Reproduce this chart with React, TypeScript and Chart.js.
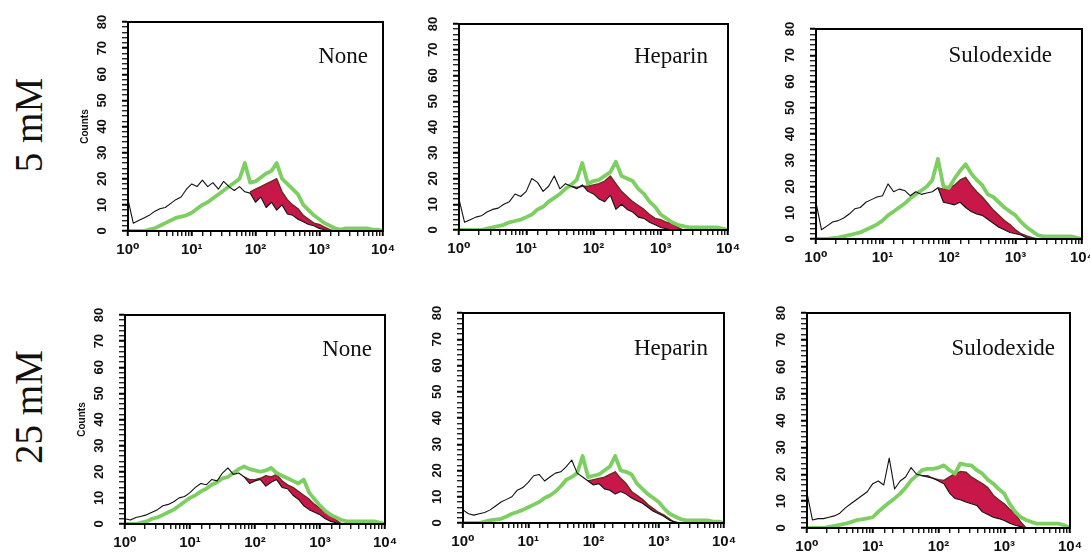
import React, { useEffect, useRef } from "react";
import { Chart, registerables } from "chart.js";

Chart.register(...registerables);

// Fluorescence channels (log axis, 12 per decade from 10^0 to 10^4)
const CHANNELS = [
  1, 1.21, 1.47, 1.78, 2.15, 2.61, 3.16, 3.83, 4.64, 5.62, 6.81, 8.25,
  10, 12.1, 14.7, 17.8, 21.5, 26.1, 31.6, 38.3, 46.4, 56.2, 68.1, 82.5,
  100, 121, 147, 178, 215, 261, 316, 383, 464, 562, 681, 825,
  1000, 1210, 1470, 1780, 2150, 2610, 3160, 3830, 4640, 5620, 6810, 8250, 10000,
];

const X_TICK_LABELS = ["10⁰", "10¹", "10²", "10³", "10⁴"];
const Y_MIN = 0;
const Y_MAX = 80;
const ROW_LABELS = ["5 mM", "25 mM"];
const PANEL_TITLES = ["None", "Heparin", "Sulodexide"];

const N = null;

// ---------- 5 mM ----------
const none5_control = [
  12, 3, 4, 5, 6, 7.5, 8.5, 9, 10.5, 12, 13, 16,
  18, 17, 19.5, 17, 18.5, 16, 19, 17, 15.5, 17, 15, 14.5,
  11, 13, 9, 11, 8, 10, 6.5, 6, 4.5, 3.5, 2.5, 2,
  1, 0.5, 0, 0, 0, 0, 0, 0, 0, 0, 0, 0, 0,
];
const none5_green = [
  0, 0, 0, 0, 0.5, 1, 2, 3, 4, 5, 5.5, 6,
  7, 8.5, 10, 11, 12.5, 14, 15.5, 17, 18.5, 20, 26, 18.5,
  19, 20.5, 22, 23, 26, 20, 18, 16, 14, 10, 8, 6,
  4.5, 3, 2, 1, 0.5, 1, 1, 1, 1, 1, 0.5, 0.5, 0,
];
const none5_red = [
  N, N, N, N, N, N, N, N, N, N, N, N,
  N, N, N, N, N, N, N, N, N, N, N, 15,
  16, 17, 18, 19, 20, 15, 12, 10, 8.5, 6, 4.5, 3,
  2.5, 1.5, 0.5, 0, N, N, N, N, N, N, N, N, N,
];

const hep5_control = [
  12, 3, 4, 5, 5.5, 7, 8, 8.5, 10, 11, 14, 13,
  15, 20, 18.5, 15, 17, 21, 16, 18, 17, 16, 17.5, 15,
  14, 12, 11, 13.5, 8, 10, 8, 7, 5, 4.5, 3, 2,
  1, 0.5, 0, 0, 0, 0, 0, 0, 0, 0, 0, 0, 0,
];
const hep5_green = [
  0, 0, 0, 0, 0, 0.5, 1, 1.5, 2, 3, 3.5, 4,
  5, 6, 8, 9, 11, 12.5, 14, 16, 17.5, 19.5, 26, 18,
  19, 19.5, 21, 22.5, 26.5, 21, 20, 19, 16, 14, 11, 9,
  6, 4.5, 3, 2, 1.5, 1, 1, 1, 1, 1, 1, 0.5, 0,
];
const hep5_red = [
  N, N, N, N, N, N, N, N, N, N, N, N,
  N, N, N, N, N, N, N, N, 17, 16.5, 17, 17,
  17.5, 18, 19, 21, 18, 15, 13, 11, 9.5, 8, 6, 4.5,
  4, 3, 2.5, 1, 0, N, N, N, N, N, N, N, N,
];

const sul5_control = [
  14, 3.5, 5, 6.5, 7, 8, 9.5, 11.5, 12, 14, 15, 16,
  16.5, 21, 18, 19, 18.5, 16.5, 18, 17, 17.5, 18, 19.5, 14,
  13.5, 13, 14, 12, 10.5, 9.5, 9, 7.5, 6, 4.5, 3.5, 2.5,
  2, 1.5, 0.5, 0, 0, 0, 0, 0, 0, 0, 0, 0, 0,
];
const sul5_green = [
  0, 0, 0, 0.3, 0.5, 1, 1.5, 2, 2.5, 3.5, 4.5, 5.5,
  7, 9, 10.5, 12, 13.5, 15.5, 17, 18.5, 20, 22.5, 30.5, 20,
  19.5, 23, 26, 28.5, 25, 22.5, 20.5, 17, 16, 14, 12, 10.5,
  9, 6.5, 4.5, 3, 1.5, 1, 1, 1, 1, 1, 1, 0.5, 0,
];
const sul5_red = [
  N, N, N, N, N, N, N, N, N, N, N, N,
  N, N, N, N, N, N, N, N, N, N, 19.5, 19,
  19.5, 20.5, 22.5, 23.5, 20.5, 18, 16, 13.5, 11, 9, 7, 5.5,
  3.5, 2, 1.2, 0.5, 0, N, N, N, N, N, N, N, N,
];

// ---------- 25 mM ----------
const none25_control = [
  2, 1.5, 2.5, 3, 3.5, 4.5, 5.5, 7, 7.5, 8.5, 10, 10.5,
  12, 14, 15.5, 15, 17, 16.5, 19.5, 21.5, 19, 19.5, 18, 15.5,
  16.5, 17, 14.5, 16, 17, 14, 13.5, 11, 9.5, 7, 5.5, 4.5,
  3.5, 2, 1, 0.5, 0, 0, 0, 0, 0, 0, 0, 0, 0,
];
const none25_green = [
  0, 0, 0, 0.5, 1, 2, 2.5, 3.5, 4.5, 5.5, 7, 8.5,
  10, 11, 12.5, 13.5, 15, 16, 17.5, 18, 19.5, 21, 22, 21,
  20.5, 20, 20.5, 21.5, 19.5, 18.5, 17.5, 16.5, 15.5, 17, 12, 9.5,
  7, 5, 3.5, 2.5, 1.5, 1, 1, 1, 1, 1, 1, 0.5, 0,
];
const none25_red = [
  N, N, N, N, N, N, N, N, N, N, N, N,
  N, N, N, N, N, N, N, N, N, N, 18, 17,
  17, 17.5, 18.5, 18, 19, 16.5, 15, 14, 12.5, 11, 9.5, 7.5,
  6, 4.5, 3.5, 1.5, 0, N, N, N, N, N, N, N, N,
];

const hep25_control = [
  5, 3.5, 3, 3.5, 4, 5, 6.5, 8, 9, 10, 12.5, 13.5,
  15.5, 18, 18.5, 16, 17.5, 19, 19.5, 21.5, 24, 19, 17.5, 16,
  14.5, 15, 13, 12.5, 11, 12, 11, 9.5, 8.5, 7.5, 6, 4.5,
  3.5, 2.5, 1, 0.5, 0, 0, 0, 0, 0, 0, 0, 0, 0,
];
const hep25_green = [
  0, 0, 0, 0, 0.5, 1, 1.3, 1.6, 2.5, 3.5, 4.2, 5,
  6, 7, 8, 9.5, 10.5, 12, 14, 16.5, 17.5, 19, 25.5, 17.5,
  18, 18.5, 20, 21.5, 25.5, 20, 19.5, 18.5, 15, 13, 11, 9.5,
  8, 5.5, 3.5, 2.5, 1.5, 1, 1, 1, 1, 1, 0.5, 0.5, 0,
];
const hep25_red = [
  N, N, N, N, N, N, N, N, N, N, N, N,
  N, N, N, N, N, N, N, N, N, N, N, 16,
  16.5, 17, 17.5, 18.5, 19.5, 17, 15, 12, 10.5, 9, 7, 5.5,
  4, 3, 1.5, 0, N, N, N, N, N, N, N, N, N,
];

const sul25_control = [
  13, 3, 3.5, 3.5, 4, 4.5, 5.5, 7.5, 9, 10.5, 12, 13.5,
  16.5, 17.5, 16, 26, 14.5, 17.5, 19, 22.5, 20, 19.5, 19, 18.5,
  17.5, 16.5, 13, 11, 10.5, 9.7, 9, 8.4, 6, 5, 4, 3.5,
  2.8, 1.8, 1, 0.5, 0, 0, 0, 0, 0, 0, 0, 0, 0,
];
const sul25_green = [
  0, 0, 0, 0, 0.4, 0.8, 1.2, 1.6, 2.2, 2.9, 3.2, 3.6,
  4, 6, 7.8, 9.5, 11, 12.8, 15, 17.7, 19.5, 21.5, 22, 22,
  22.5, 23.3, 21.5, 20.2, 24, 23.5, 23.3, 21.5, 20.2, 18, 16.5, 14.5,
  12.8, 9, 6, 4, 3, 2.2, 1.6, 1.6, 1.6, 1.6, 1.6, 1, 0,
];
const sul25_red = [
  N, N, N, N, N, N, N, N, N, N, N, N,
  N, N, N, N, N, N, N, N, N, 19.5, 19.5, 18.5,
  18, 17.7, 19, 20.2, 21, 20.8, 19, 17.7, 16.5, 15, 12.2, 10.5,
  9, 7, 5.3, 2.2, 0, N, N, N, N, N, N, N, N,
];

// ---------- layout (page pixel boxes of each plot area) ----------
type PanelDef = {
  title: string;
  control: (number | null)[];
  green: (number | null)[];
  red: (number | null)[];
  counts: boolean;
  box: [number, number, number, number];
  titleOff: [number, number];
};

const PANELS: PanelDef[] = [
  { title: PANEL_TITLES[0], control: none5_control, green: none5_green, red: none5_red, counts: true, box: [128, 22, 383, 231], titleOff: [15, 41] },
  { title: PANEL_TITLES[1], control: hep5_control, green: hep5_green, red: hep5_red, counts: false, box: [459, 24, 728, 230], titleOff: [20, 39] },
  { title: PANEL_TITLES[2], control: sul5_control, green: sul5_green, red: sul5_red, counts: false, box: [816, 29, 1082, 239], titleOff: [30, 33] },
  { title: PANEL_TITLES[0], control: none25_control, green: none25_green, red: none25_red, counts: true, box: [125, 315, 385, 524], titleOff: [13, 41] },
  { title: PANEL_TITLES[1], control: hep25_control, green: hep25_green, red: hep25_red, counts: false, box: [463, 313, 724, 523], titleOff: [16, 42] },
  { title: PANEL_TITLES[2], control: sul25_control, green: sul25_green, red: sul25_red, counts: false, box: [807, 313, 1070, 528], titleOff: [15, 42] },
];

const PADL = 62;
const PADT = 8;
const PADR = 14;
const PADB = 34;

const SANS = "'Liberation Sans', Arial, 'DejaVu Sans', sans-serif";
const SERIF = "'Liberation Serif', 'Times New Roman', 'DejaVu Serif', serif";

const framePlugin = {
  id: "frame",
  afterDraw(chart: any, _args: any, opts: any) {
    const { ctx, chartArea: a } = chart;
    ctx.save();
    ctx.strokeStyle = "#000";
    ctx.lineWidth = 2;
    ctx.strokeRect(a.left, a.top, a.right - a.left, a.bottom - a.top);
    ctx.fillStyle = "#111";
    ctx.font = `23px ${SERIF}`;
    ctx.textAlign = "right";
    ctx.textBaseline = "alphabetic";
    ctx.fillText(opts.text, a.right - opts.dx, a.top + opts.dy);
    ctx.restore();
  },
};

function toPoints(values: (number | null)[]) {
  return CHANNELS.map((x, i) => ({ x, y: values[i] }));
}

function isPow10(v: number) {
  const e = Math.round(Math.log10(v));
  return Math.abs(v - Math.pow(10, e)) < 1e-6 * v;
}

function Panel({ p }: { p: PanelDef }) {
  const ref = useRef<HTMLCanvasElement>(null);
  const [L, T, R, B] = p.box;
  const W = R - L + PADL + PADR;
  const H = B - T + PADT + PADB;

  useEffect(() => {
    const chart = new Chart(ref.current as HTMLCanvasElement, {
      type: "line",
      data: {
        datasets: [
          {
            label: "Control",
            data: toPoints(p.control) as any,
            borderColor: "#111",
            borderWidth: 1.1,
            pointRadius: 0,
            fill: false,
            order: 0,
          },
          {
            label: "Green",
            data: toPoints(p.green) as any,
            borderColor: "#7dcf62",
            borderWidth: 3.8,
            pointRadius: 0,
            fill: false,
            order: 1,
          },
          {
            label: "Red",
            data: toPoints(p.red) as any,
            borderColor: "#6b2a20",
            borderWidth: 1.4,
            backgroundColor: "rgba(0,0,0,0)",
            pointRadius: 0,
            fill: { target: 0, above: "#c8184a", below: "rgba(0,0,0,0)" } as any,
            order: 2,
          },
        ],
      },
      options: {
        animation: false,
        responsive: false,
        maintainAspectRatio: false,
        events: [],
        spanGaps: false,
        layout: { padding: { left: 0, top: PADT, right: PADR, bottom: 0 } },
        elements: { line: { tension: 0, borderJoinStyle: "round" } },
        plugins: {
          legend: { display: false },
          tooltip: { enabled: false },
          frame: { text: p.title, dx: p.titleOff[0], dy: p.titleOff[1] },
        } as any,
        scales: {
          x: {
            type: "logarithmic",
            min: 1,
            max: 10000,
            border: { display: true, color: "#000", width: 2 },
            grid: {
              display: true,
              drawOnChartArea: false,
              drawTicks: true,
              tickLength: 5,
              color: "#000",
              tickColor: "#000",
              lineWidth: 1.5,
              tickWidth: (c: any) => (c.tick && isPow10(c.tick.value) ? 2 : 1.3),
            },
            ticks: {
              autoSkip: false,
              minRotation: 0,
              maxRotation: 0,
              padding: 5,
              color: "#111",
              font: { family: SANS, size: 15, weight: "bold" },
              callback: (v: any) => {
                const val = Number(v);
                const e = Math.round(Math.log10(val));
                if (e >= 0 && e < X_TICK_LABELS.length && isPow10(val)) {
                  return X_TICK_LABELS[e];
                }
                return "";
              },
            },
            afterFit: (s: any) => {
              s.height = PADB;
              s.paddingLeft = 0;
              s.paddingRight = 0;
            },
          } as any,
          y: {
            min: Y_MIN,
            max: Y_MAX,
            border: { display: true, color: "#000", width: 2 },
            grid: {
              display: true,
              drawOnChartArea: false,
              drawTicks: true,
              tickLength: 6,
              color: "#000",
              tickColor: "#000",
              lineWidth: 1.5,
              tickWidth: (c: any) => (c.tick && Number(c.tick.value) % 10 === 0 ? 2 : 1.2),
            },
            ticks: {
              stepSize: 2,
              autoSkip: false,
              minRotation: 90,
              maxRotation: 90,
              crossAlign: "center",
              padding: 12,
              color: "#111",
              font: { family: SANS, size: 13, weight: "bold" },
              callback: (v: any) => (Number(v) % 10 === 0 ? String(v) : ""),
            },
            title: {
              display: p.counts,
              text: "Counts",
              color: "#111",
              font: { family: SANS, size: 10, weight: "bold" },
              padding: { top: 13, bottom: 0 },
            },
            afterFit: (s: any) => {
              s.width = PADL;
              s.paddingTop = 0;
              s.paddingBottom = 0;
            },
          } as any,
        },
      },
      plugins: [framePlugin as any],
    });
    return () => chart.destroy();
  }, []);

  return (
    <canvas
      ref={ref}
      width={W}
      height={H}
      style={{ position: "absolute", left: L - PADL, top: T - PADT, width: W, height: H }}
    />
  );
}

function RowLabel({ text, x, y }: { text: string; x: number; y: number }) {
  return (
    <div
      style={{
        position: "absolute",
        left: x,
        top: y,
        transform: "translate(-50%, -50%) rotate(-90deg)",
        fontFamily: SERIF,
        fontSize: 39,
        lineHeight: 1,
        whiteSpace: "nowrap",
        color: "#111",
      }}
    >
      {text}
    </div>
  );
}

export default function App() {
  return (
    <div
      style={{
        position: "absolute",
        left: 0,
        top: 0,
        width: 1090,
        height: 559,
        overflow: "hidden",
        background: "#fff",
      }}
    >
      <RowLabel text={ROW_LABELS[0]} x={28} y={125} />
      <RowLabel text={ROW_LABELS[1]} x={28} y={407} />
      {PANELS.map((p, i) => (
        <Panel key={i} p={p} />
      ))}
    </div>
  );
}
